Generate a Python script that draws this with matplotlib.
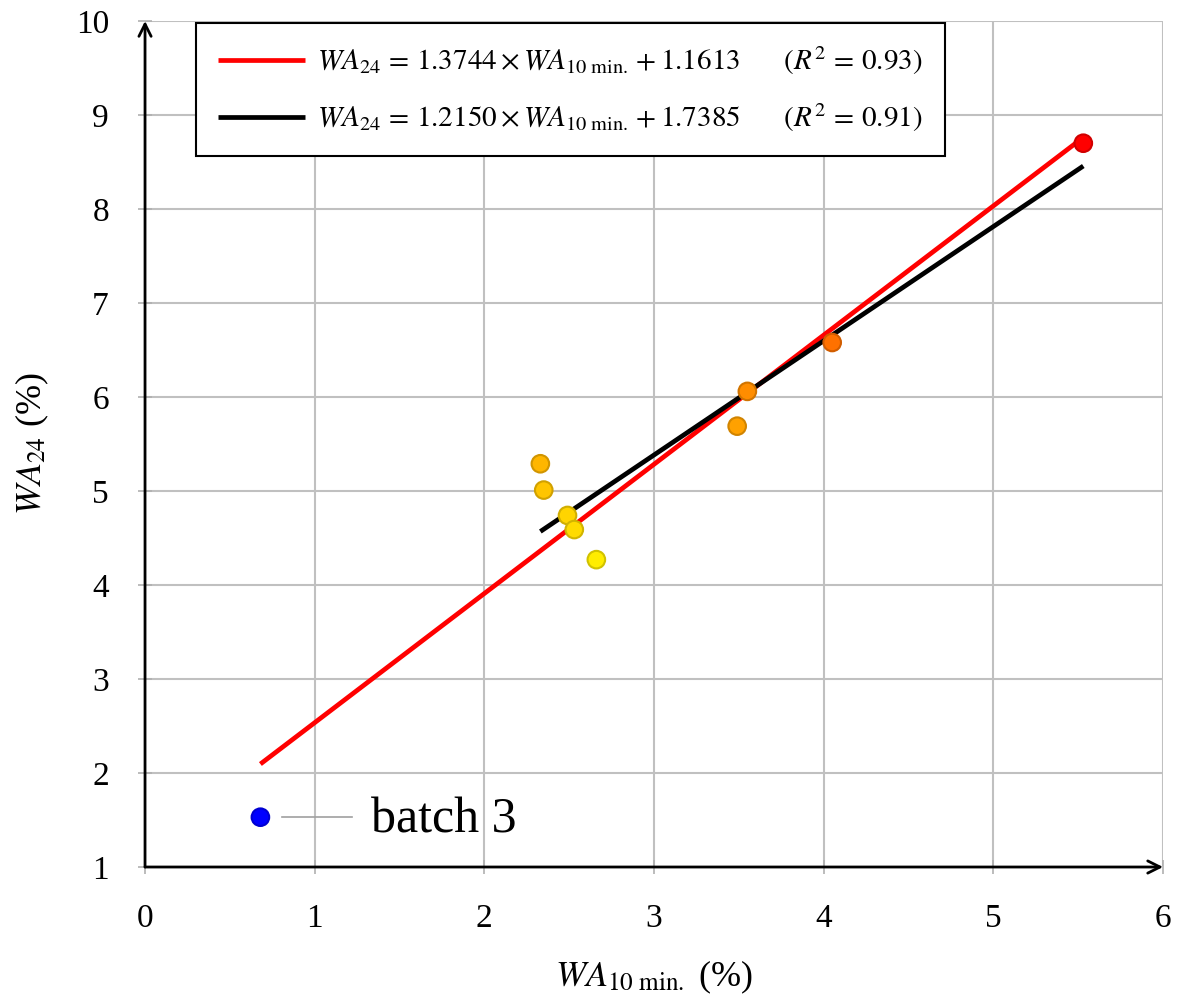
"""Water absorption after 24 h vs after 10 min, with two linear fits."""

import matplotlib

matplotlib.use("Agg")

import matplotlib.pyplot as plt
import numpy as np
from matplotlib.colors import LinearSegmentedColormap, Normalize

plt.rcParams["font.family"] = ["Liberation Serif", "DejaVu Serif"]
plt.rcParams["mathtext.fontset"] = "stix"

# data
wa10 = [0.68, 2.33, 2.35, 2.49, 2.53, 2.66, 3.49, 3.55, 4.05, 5.53]
wa24 = [1.53, 5.29, 5.01, 4.74, 4.59, 4.27, 5.69, 6.06, 6.58, 8.70]

# fits as printed in the legend: (slope, intercept, r2, x range)
fit_all = (1.3744, 1.1613, 0.93, (0.68, 5.53))
fit_no_b3 = (1.2150, 1.7385, 0.91, (2.33, 5.53))

x_ticks = [0, 1, 2, 3, 4, 5, 6]
y_ticks = [1, 2, 3, 4, 5, 6, 7, 8, 9, 10]

# pgfplots "hot" colormap: blue -> yellow -> orange -> red
hot = LinearSegmentedColormap.from_list(
    "pgf_hot", ["#0000ff", "#ffff00", "#ff8000", "#ff0000"]
)

fig = plt.figure(figsize=(11.81, 9.96), dpi=100)
ax = fig.add_axes([0.1228, 0.1295, 0.862, 0.8494])

ax.set_xlim(0, 6)
ax.set_ylim(1, 10)
ax.set_xticks(x_ticks)
ax.set_yticks(y_ticks)
ax.grid(True, color="#c0c0c0", lw=1.5)
ax.set_axisbelow(True)
ax.tick_params(direction="inout", length=10, width=1.2, color="#b0b0b0",
               labelsize=24, pad=21)
for s in ax.spines.values():
    s.set_visible(False)

# axis arrows
ax.annotate("", xy=(1.0, 0), xytext=(0, 0), xycoords="axes fraction",
            arrowprops=dict(arrowstyle="->", lw=2, color="black",
                            shrinkA=0, shrinkB=0, mutation_scale=22))
ax.annotate("", xy=(0, 1.0), xytext=(0, 0), xycoords="axes fraction",
            arrowprops=dict(arrowstyle="->", lw=2, color="black",
                            shrinkA=0, shrinkB=0, mutation_scale=22))


def eq_label(a, b, r2):
    eq = r"$WA_{24} \,=\, %.4f \times WA_{10\ \mathrm{min.}} + %.4f$" % (a, b)
    return eq + "      " + r"$(R^2 \,=\, %.2f)$" % r2


for (a, b, r2, (x0, x1)), col in [(fit_all, "#ff0000"), (fit_no_b3, "black")]:
    xs = np.array([x0, x1])
    ax.plot(xs, a * xs + b, color=col, lw=3.4, label=eq_label(a, b, r2),
            solid_capstyle="butt", zorder=3)

norm = Normalize(vmin=min(wa24), vmax=max(wa24))
fc = hot(norm(wa24))
ec = fc.copy()
ec[:, :3] *= 0.82
ax.scatter(wa10, wa24, s=160, c=fc, edgecolors=ec, linewidths=1.5, zorder=4)

# batch 3 annotation
ax.plot([0.81, 1.22], [1.53, 1.53], color="#a0a0a0", lw=1.2, zorder=2)
ax.text(1.33, 1.50, "batch 3", fontsize=36, va="center", ha="left")

leg = ax.legend(loc="upper left", bbox_to_anchor=(0.05, 0.998),
                borderaxespad=0, fontsize=21, handlelength=3.0,
                handletextpad=0.41, labelspacing=0.84, borderpad=0.75,
                fancybox=False, framealpha=1, edgecolor="black")
leg.get_frame().set_linewidth(1.5)

ax.set_xlabel(r"$WA_{10\ \mathrm{min.}}$ (%)", fontsize=26, labelpad=18)
ax.set_ylabel(r"$WA_{24}$ (%)", fontsize=26, labelpad=18)

fig.savefig("out.png", dpi=100)
